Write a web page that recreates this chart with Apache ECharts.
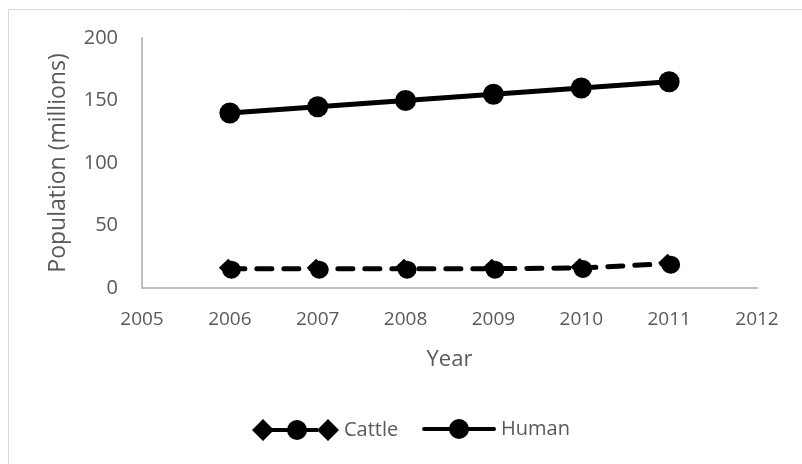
<!DOCTYPE html>
<html><head><meta charset="utf-8">
<script src="https://cdn.jsdelivr.net/npm/echarts@6/dist/echarts.min.js"></script>
<style>html,body{margin:0;padding:0;background:#fff}#c{width:802px;height:464px}</style>
</head><body><div id="c"></div>
<script>
const years = [2006, 2007, 2008, 2009, 2010, 2011];
const cattle = [15.5, 15.5, 15.5, 15.5, 16, 19.5];
const human = [140, 145, 150, 155, 160, 165];
const xTicks = [2005, 2006, 2007, 2008, 2009, 2010, 2011, 2012];
const yTicks = [0, 50, 100, 150, 200];

const FONT = '"Open Sans", sans-serif';
const TXT = '#595959';
const cattleSymbol = 'path://M0 9L9 0L18 9L9 18Z M3 11A9 9 0 1 1 21 11A9 9 0 1 1 3 11Z';
const cattleLegend = 'path://M0 11L11 0L22 11L11 22Z M20 9H36V13H20Z M35 11A10 10 0 1 1 55 11A10 10 0 1 1 35 11Z M54 9H66V13H54Z M65 11L76 0L87 11L76 22Z';
const humanLegend = 'path://M2 9H72A2 2 0 0 1 72 13H2A2 2 0 0 1 2 9Z M27 11A10 10 0 1 1 47 11A10 10 0 1 1 27 11Z';

const chart = echarts.init(document.getElementById('c'), null, {renderer: 'canvas'});
chart.setOption({
  backgroundColor: '#fff',
  animation: false,
  graphic: [
    {type: 'line', shape: {x1: 8.5, y1: 9.5, x2: 802, y2: 9.5}, style: {stroke: '#d9d9d9', lineWidth: 1}, silent: true},
    {type: 'line', shape: {x1: 8.5, y1: 9.5, x2: 8.5, y2: 464}, style: {stroke: '#d9d9d9', lineWidth: 1}, silent: true}
  ],
  grid: {left: 142, right: 45, top: 38, bottom: 176, containLabel: false},
  legend: [
    {data: [{name: 'Cattle', icon: cattleLegend}], left: 247, top: 414, itemWidth: 87, itemHeight: 22, itemGap: 0,
     textStyle: {color: TXT, fontFamily: FONT, fontSize: 20}},
    {data: [{name: 'Human', icon: humanLegend}], left: 417, top: 414, itemWidth: 74, itemHeight: 22, itemGap: 0,
     textStyle: {color: TXT, fontFamily: FONT, fontSize: 20}}
  ],
  xAxis: {
    type: 'value', min: 2005, max: 2012, interval: 1,
    name: 'Year', nameLocation: 'middle', nameGap: 61,
    nameTextStyle: {color: TXT, fontFamily: FONT, fontSize: 22},
    axisLine: {show: true, lineStyle: {color: '#bfbfbf', width: 2}},
    axisTick: {show: false},
    splitLine: {show: false},
    axisLabel: {color: TXT, fontFamily: FONT, fontSize: 19, margin: 22,
      formatter: v => xTicks.includes(v) ? String(v) : ''}
  },
  yAxis: {
    type: 'value', min: 0, max: 200, interval: 50,
    name: 'Population (millions)', nameLocation: 'middle', nameGap: 72, nameRotate: 90,
    nameTextStyle: {color: TXT, fontFamily: FONT, fontSize: 23},
    axisLine: {show: true, lineStyle: {color: '#bfbfbf', width: 2}},
    axisTick: {show: false},
    splitLine: {show: false},
    axisLabel: {color: TXT, fontFamily: FONT, fontSize: 20, margin: 24,
      formatter: v => yTicks.includes(v) ? String(v) : ''}
  },
  series: [
    {name: 'Cattle', type: 'line', data: years.map((y, i) => [y, cattle[i]]),
     symbol: cattleSymbol, symbolSize: [22, 20], showSymbol: true,
     itemStyle: {color: '#000'},
     lineStyle: {color: '#000', width: 5, type: [15, 12], cap: 'round'}},
    {name: 'Human', type: 'line', data: years.map((y, i) => [y, human[i]]),
     symbol: 'circle', symbolSize: 21,
     itemStyle: {color: '#000'},
     lineStyle: {color: '#000', width: 5}}
  ]
});
</script></body></html>
